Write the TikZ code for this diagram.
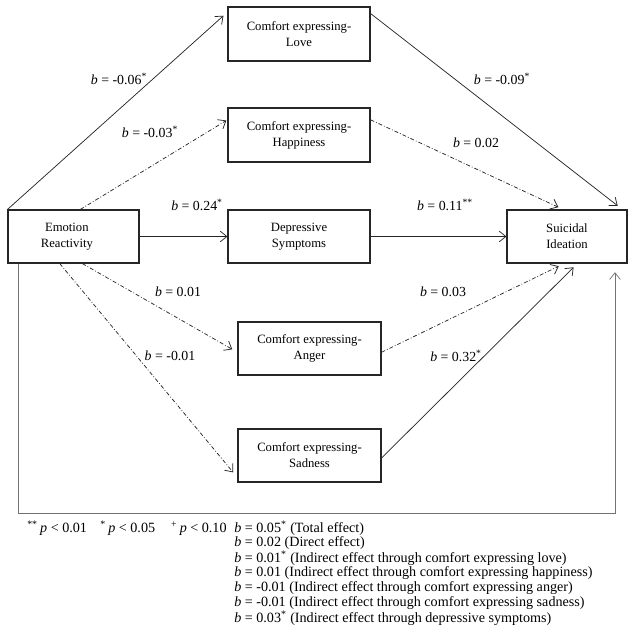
\documentclass[tikz,border=0pt]{standalone}
\usepackage{fontspec}
\setmainfont{Liberation Serif}
\usetikzlibrary{arrows.meta}
\tikzset{
  box/.style={draw=black!85,line width=0.8pt,align=center,inner sep=0pt,
    font=\fontsize{9.5pt}{12pt}\selectfont},
  solidarr/.style={draw=black!85,line width=0.55pt,-{Straight Barb[length=5pt,width=8pt]}},
  dasharr/.style={solidarr,dash pattern=on 3pt off 1.5pt on 0.6pt off 1.5pt},
  coef/.style={font=\fontsize{10.4pt}{12pt}\selectfont,inner sep=0pt},
  legend/.style={coef,anchor=west,font=\fontsize{10.6pt}{12pt}\selectfont}
}
\newcommand{\bb}{\textit{b} = }
\begin{document}
\begin{tikzpicture}[x=0.75pt,y=-0.75pt]
\useasboundingbox (0,0) rectangle (635,640);
% the boxes
\node[box,minimum width=98.25pt,minimum height=39.75pt] (er) at (73.5,236.5) {Emotion\hspace*{10pt}\\Reactivity\hspace*{10pt}};
\node[box,minimum width=106.5pt,minimum height=40.5pt] (love) at (299,34) {Comfort expressing-\\Love};
\node[box,minimum width=106.5pt,minimum height=40.5pt] (happy) at (299,135) {Comfort expressing-\\Happiness};
\node[box,minimum width=106.5pt,minimum height=39.75pt] (dep) at (299,236.5) {Depressive\\Symptoms};
\node[box,minimum width=90pt,minimum height=39.75pt] (sui) at (567,236.5) {Suicidal\\Ideation};
\node[box,minimum width=107.25pt,minimum height=39.75pt] (anger) at (309.5,348.5) {Comfort expressing-\\Anger};
\node[box,minimum width=107.25pt,minimum height=39.75pt] (sad) at (309.5,455.5) {Comfort expressing-\\Sadness};
% paths a
\draw[solidarr,shorten >=4pt] (er.north west) -- (love.163);
\draw[dasharr,shorten >=1pt] (er.76) -- (happy.168);
\draw[solidarr] (er.east) -- (dep.west);
\draw[dasharr,shorten >=4.5pt] (er.-72) -- (anger.183);
\draw[dasharr,shorten >=5pt] (er.243) -- (sad.197.5);
% paths b
\draw[solidarr,shorten >=4.5pt] (love.16) -- (sui.26);
\draw[dasharr,shorten >=4pt] (happy.12) -- (sui.98.6);
\draw[solidarr] (dep.east) -- (sui.west);
\draw[dasharr,shorten >=4.5pt] (anger.-3.6) -- (sui.-96.5);
\draw[solidarr,shorten >=4pt] (sad.-2.8) -- (sui.-69.3);
% direct path c'
\coordinate (bl) at (18,513);
\coordinate (br) at (615,513);
\draw[solidarr,draw=black!55,shorten >=6.5pt] (er.south -| bl) -- (bl) -- (br) -- (sui.south -| br);
% coefficients
\node[coef] (ca1) at (119,79) {\bb-0.06\textsuperscript{*}};
\node[coef] (ca2) at (150,132) {\bb-0.03\textsuperscript{*}};
\node[coef] (ca3) at (197,205) {\bb0.24\textsuperscript{*}};
\node[coef] (ca4) at (178,292) {\bb0.01};
\node[coef] (ca5) at (170,356) {\bb-0.01};
\node[coef] (cb1) at (502,79) {\bb-0.09\textsuperscript{*}};
\node[coef] (cb2) at (476,143) {\bb0.02};
\node[coef] (cb3) at (445,205) {\bb0.11\textsuperscript{**}};
\node[coef] (cb4) at (443,292) {\bb0.03};
\node[coef] (cb5) at (456,356) {\bb0.32\textsuperscript{*}};
% legend
\node[legend] (sig) at (27,528) {\textsuperscript{**}\,\textit{p} < 0.01\hspace{10pt}\textsuperscript{*}\,\textit{p} < 0.05\hspace{12pt}\textsuperscript{+}\,\textit{p} < 0.10};
\foreach \txt [count=\i from 0] in {
  {\bb0.05\textsuperscript{*} (Total effect)},
  {\bb0.02 (Direct effect)},
  {\bb0.01\textsuperscript{*} (Indirect effect through comfort expressing love)},
  {\bb0.01 (Indirect effect through comfort expressing happiness)},
  {\bb-0.01 (Indirect effect through comfort expressing anger)},
  {\bb-0.01 (Indirect effect through comfort expressing sadness)},
  {\bb0.03\textsuperscript{*} (Indirect effect through depressive symptoms)}}
  \node[legend] (eff\i) at (234,{528+15*\i}) {\txt};
\end{tikzpicture}
\end{document}
